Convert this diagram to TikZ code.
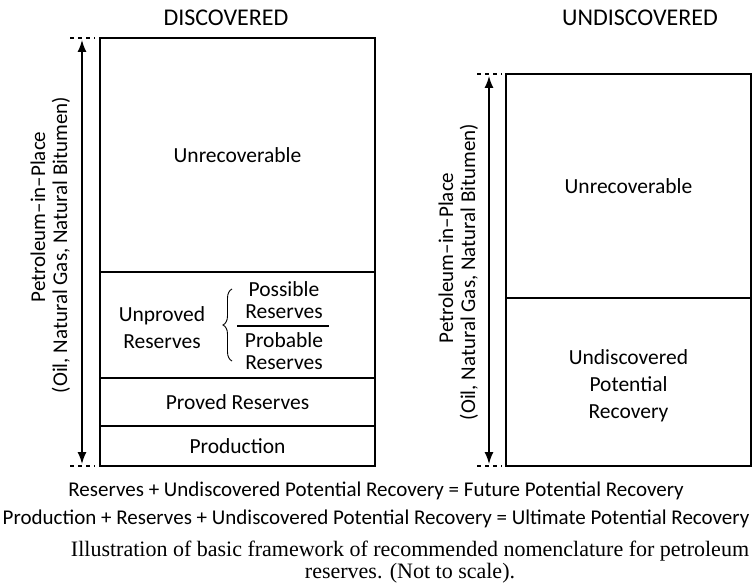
\documentclass[tikz,border=0pt]{standalone}
\usepackage{fontspec}
\setmainfont{Carlito}
\newfontfamily\capfont{Liberation Serif}
\usetikzlibrary{positioning,arrows.meta,decorations.pathreplacing}
\begin{document}
\begin{tikzpicture}[x=1pt,y=-1pt,font=\fontsize{21.5}{27}\selectfont,
    box/.style={draw,line width=1.7pt,inner sep=0pt,outer sep=0pt,align=center,minimum width=275pt},
    tick/.style={line width=1.6pt,dash pattern=on 4pt off 4pt},
    span/.style={line width=1.4pt,{Latex[length=12pt,width=9pt]}-{Latex[length=12pt,width=9pt]}},
    side/.style={rotate=90,font=\fontsize{21}{24}\selectfont},
    pair/.style={align=center,font=\fontsize{21.5}{22.5}\selectfont},
    sum/.style={font=\fontsize{21}{25}\selectfont}]
  \useasboundingbox (0,0) rectangle (752,588);
  % headings
  \node[font=\fontsize{24}{28}\selectfont](H1) at(226,18){DISCOVERED};
  \node[font=\fontsize{24}{28}\selectfont](H2) at(640,18){UNDISCOVERED};
  % discovered column
  \node[box,minimum height=234pt,anchor=north west](U1) at(100,38){Unrecoverable};
  \node[box,minimum height=106pt,below=0pt of U1](R1){};
  \node[box,minimum height=48pt,below=0pt of R1](P1){Proved Reserves};
  \node[box,minimum height=40pt,below=0pt of P1](Q1){Production};
  \node[align=center](UR) at(162,328){Unproved\\Reserves};
  \node[pair](PS) at(284,300){Possible\\Reserves};
  \node[pair](PB) at(284,351){Probable\\Reserves};
  \draw[line width=1.2pt](237,326)--(329,326);
  \draw[line width=0.9pt,decorate,decoration={brace,amplitude=9pt}](232,361)--(232,289);
  % undiscovered column
  \node[box,minimum width=245pt,minimum height=224pt,anchor=north west](U2) at(506,74){Unrecoverable};
  \node[box,minimum width=245pt,minimum height=168pt,below=0pt of U2](D2){};
  \node[align=center](DT) at([yshift=-4pt]D2.center){Undiscovered\\Potential\\Recovery};
  % petroleum-in-place spans
  \coordinate(A1t) at([xshift=-18pt]U1.north west); \coordinate(A1b) at([xshift=-18pt]Q1.south west);
  \coordinate(A2t) at([xshift=-17pt]U2.north west); \coordinate(A2b) at([xshift=-17pt]D2.south west);
  \foreach \n in {1,2}{
    \draw[tick]([xshift=-12pt]A\n t)--++(25,0);
    \draw[tick]([xshift=-12pt]A\n b)--++(25,0);
    \draw[span]([yshift=2pt]A\n b)--([yshift=-2pt]A\n t);
  }
  \foreach \n/\x/\ya/\yb in {1/38/217/245, 2/446/258/272}{
    \node[side](S\n a) at(\x,\ya){Petroleum--in--Place};
    \node[side](S\n b) at(\x+23,\yb){(Oil, Natural Gas, Natural Bitumen)};
  }
  % sums and caption
  \node[sum](E1) at(376,491){Reserves + Undiscovered Potential Recovery = Future Potential Recovery};
  \node[sum](E2) at(376,519){Production + Reserves + Undiscovered Potential Recovery = Ultimate Potential Recovery};
  \node[align=center,font=\capfont\fontsize{22}{22.5}\selectfont](C) at(410,562){Illustration of basic framework of recommended nomenclature for petroleum\\reserves. (Not to scale).};
\end{tikzpicture}
\end{document}
